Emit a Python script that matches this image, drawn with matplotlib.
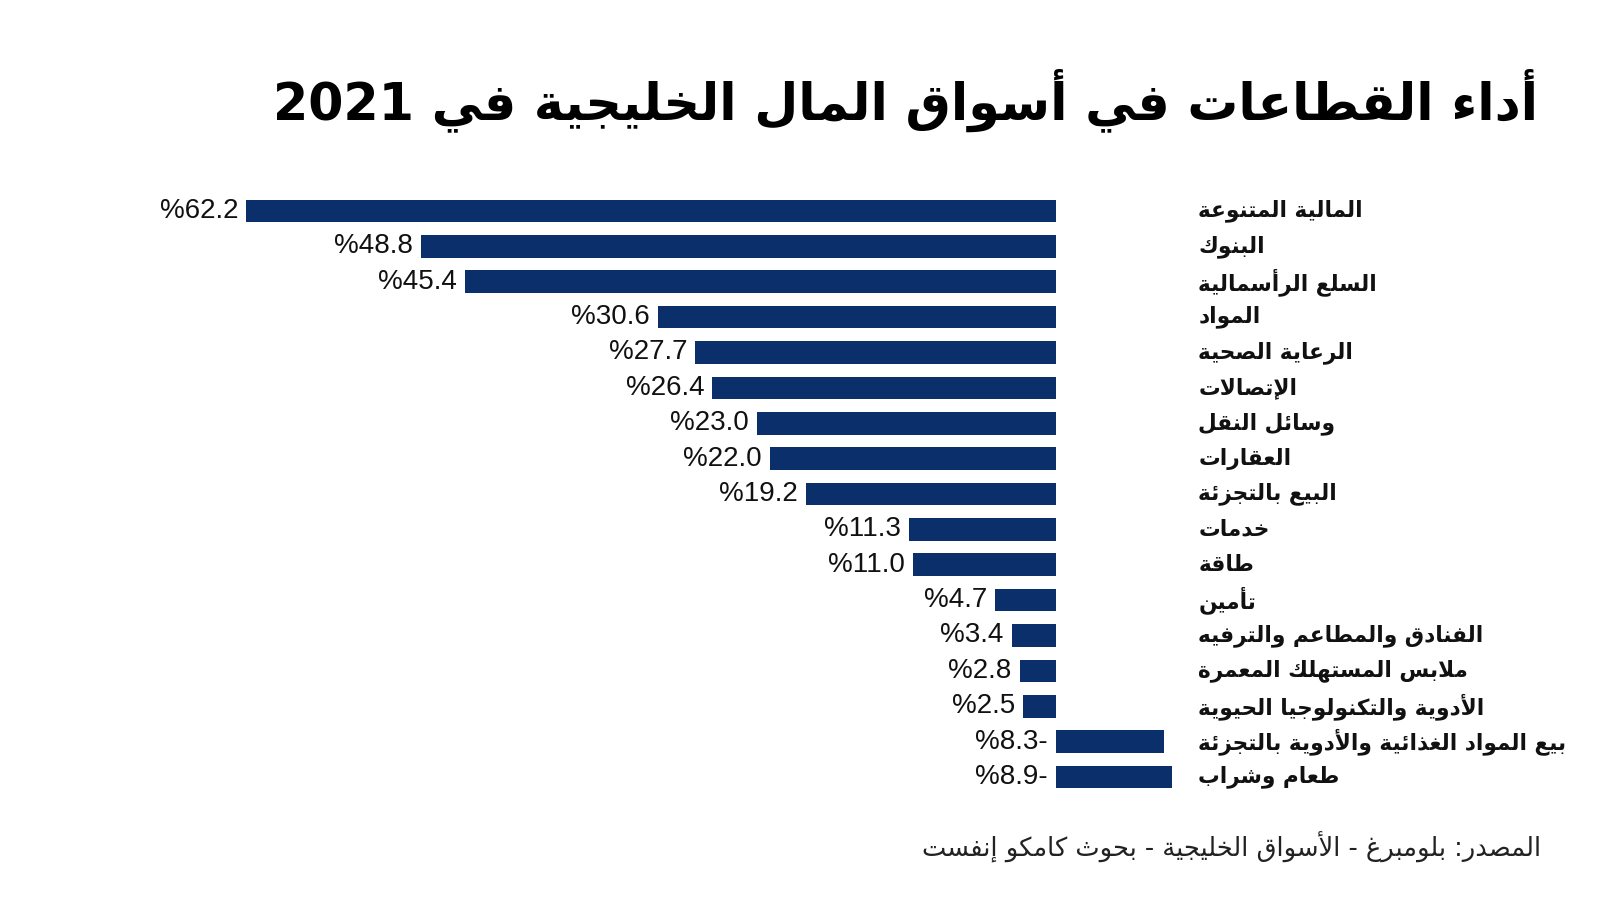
import re
import matplotlib
matplotlib.use('Agg')
import matplotlib.pyplot as plt

# --- data (top to bottom as in the chart) ---
sectors = [
    'المالية المتنوعة',
    'البنوك',
    'السلع الرأسمالية',
    'المواد',
    'الرعاية الصحية',
    'الإتصالات',
    'وسائل النقل',
    'العقارات',
    'البيع بالتجزئة',
    'خدمات',
    'طاقة',
    'تأمين',
    'الفنادق والمطاعم والترفيه',
    'ملابس المستهلك المعمرة',
    'الأدوية والتكنولوجيا الحيوية',
    'بيع المواد الغذائية والأدوية بالتجزئة',
    'طعام وشراب',
]
returns = [62.2, 48.8, 45.4, 30.6, 27.7, 26.4, 23.0, 22.0, 19.2,
           11.3, 11.0, 4.7, 3.4, 2.8, 2.5, -8.3, -8.9]

title = 'أداء القطاعات في أسواق المال الخليجية في 2021'
source = 'المصدر: بلومبرغ - الأسواق الخليجية - بحوث كامكو إنفست'

BAR_COLOR = '#0a2f6b'

# --- tiny arabic shaper (no arabic_reshaper / bidi available) ---
# letter -> (first presentation form, number of forms)
FORMS = {
    '\u0621': (0xFE80, 1), '\u0622': (0xFE81, 2), '\u0623': (0xFE83, 2),
    '\u0624': (0xFE85, 2), '\u0625': (0xFE87, 2), '\u0626': (0xFE89, 4),
    '\u0627': (0xFE8D, 2), '\u0628': (0xFE8F, 4), '\u0629': (0xFE93, 2),
    '\u062A': (0xFE95, 4), '\u062B': (0xFE99, 4), '\u062C': (0xFE9D, 4),
    '\u062D': (0xFEA1, 4), '\u062E': (0xFEA5, 4), '\u062F': (0xFEA9, 2),
    '\u0630': (0xFEAB, 2), '\u0631': (0xFEAD, 2), '\u0632': (0xFEAF, 2),
    '\u0633': (0xFEB1, 4), '\u0634': (0xFEB5, 4), '\u0635': (0xFEB9, 4),
    '\u0636': (0xFEBD, 4), '\u0637': (0xFEC1, 4), '\u0638': (0xFEC5, 4),
    '\u0639': (0xFEC9, 4), '\u063A': (0xFECD, 4), '\u0641': (0xFED1, 4),
    '\u0642': (0xFED5, 4), '\u0643': (0xFED9, 4), '\u0644': (0xFEDD, 4),
    '\u0645': (0xFEE1, 4), '\u0646': (0xFEE5, 4), '\u0647': (0xFEE9, 4),
    '\u0648': (0xFEED, 2), '\u0649': (0xFEEF, 2), '\u064A': (0xFEF1, 4),
    # lam-alef ligatures
    '\u0644\u0622': (0xFEF5, 2), '\u0644\u0623': (0xFEF7, 2),
    '\u0644\u0625': (0xFEF9, 2), '\u0644\u0627': (0xFEFB, 2),
}


def shape(text):
    seq = []
    i = 0
    while i < len(text):
        pair = text[i:i + 2]
        if len(pair) == 2 and pair in FORMS and pair[0] == '\u0644':
            seq.append(pair)
            i += 2
        else:
            seq.append(text[i])
            i += 1

    def join_next(c):
        return c in FORMS and FORMS[c][1] == 4

    def join_prev(c):
        return c in FORMS and FORMS[c][1] >= 2

    out = []
    for i, c in enumerate(seq):
        if c not in FORMS:
            out.append(c)
            continue
        base, n = FORMS[c]
        p = i > 0 and join_next(seq[i - 1]) and join_prev(c)
        nx = i + 1 < len(seq) and join_next(c) and join_prev(seq[i + 1])
        if n == 1:
            code = base
        elif n == 2:
            code = base + (1 if p else 0)
        else:
            code = base + {(False, False): 0, (True, False): 1,
                           (False, True): 2, (True, True): 3}[(p, nx)]
        out.append(chr(code))
    # right-to-left: reverse, then put digit runs back in order
    vis = ''.join(out)[::-1]
    return re.sub(r'[0-9A-Za-z.]+', lambda m: m.group(0)[::-1], vis)


# --- figure ---
fig = plt.figure(figsize=(16, 9), dpi=100)
ax = fig.add_axes([0, 0, 1, 1])

# pixel layout: zero line at x=1056, 13.02 px per percentage point
px_unit = 13.02
ax.set_xlim(1056 / px_unit, -(1600 - 1056) / px_unit)
row_px = 35.375
ax.set_ylim(16 + (900 - 777) / row_px, -211 / row_px)
ax.axis('off')

ypos = list(range(len(returns)))
ax.barh(ypos, returns, height=0.64, color=BAR_COLOR)

for y, v in zip(ypos, returns):
    lab = f'%{abs(v):.1f}' + ('-' if v < 0 else '')
    ax.annotate(lab, xy=(max(v, 0), y), xytext=(-8, 0),
                textcoords='offset pixels', ha='right', va='center',
                fontsize=20, family='Liberation Sans', color='#111111')

lab_tr = ax.get_yaxis_transform()
for y, name in zip(ypos, sectors):
    ax.text(0.749, y, shape(name), transform=lab_tr, ha='left',
            va='center', fontsize=15.6, fontweight='bold',
            family='DejaVu Sans', color='#111111')

fig.text(1538 / 1600, 1 - 100 / 900, shape(title), ha='right', va='center',
         fontsize=36.5, fontweight='bold', family='DejaVu Sans', color='black')
fig.text(1541 / 1600, 1 - 847 / 900, shape(source), ha='right', va='center',
         fontsize=18.5, family='DejaVu Sans', color='#222222')

fig.savefig('out.png', dpi=100, facecolor='white')
